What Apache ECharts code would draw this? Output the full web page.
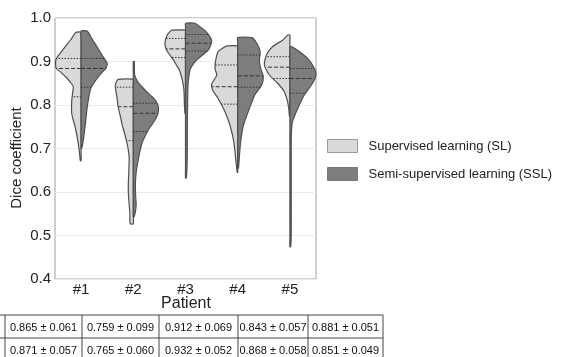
<!DOCTYPE html>
<html>
<head>
<meta charset="utf-8">
<script src="https://cdn.jsdelivr.net/npm/echarts@6/dist/echarts.min.js"></script>
<style>
  html, body { margin: 0; padding: 0; background: #fff; }
  #chart { width: 568px; height: 357px; }
</style>
</head>
<body>
<div id="chart"></div>
<script>
var patients = ['#1', '#2', '#3', '#4', '#5'];

// violin outlines: [dice value, relative half width]
var slProfiles = [
    [[0.967, 0.19], [0.95, 0.4], [0.935, 0.6], [0.92, 0.79], [0.907, 0.95], [0.895, 0.98], [0.884, 0.95], [0.875, 0.77], [0.862, 0.55], [0.85, 0.38], [0.842, 0.3], [0.825, 0.33], [0.81, 0.36], [0.781, 0.36], [0.765, 0.3], [0.75, 0.23], [0.72, 0.13], [0.695, 0.07], [0.672, 0.03]],
    [[0.859, 0.58], [0.852, 0.66], [0.842, 0.69], [0.82, 0.63], [0.796, 0.58], [0.775, 0.5], [0.758, 0.44], [0.74, 0.36], [0.72, 0.27], [0.7, 0.2], [0.681, 0.16], [0.65, 0.17], [0.62, 0.19], [0.6, 0.19], [0.58, 0.17], [0.55, 0.13], [0.527, 0.12]],
    [[0.972, 0.52], [0.965, 0.65], [0.957, 0.73], [0.942, 0.79], [0.93, 0.75], [0.919, 0.65], [0.903, 0.46], [0.89, 0.33], [0.88, 0.23], [0.857, 0.12], [0.834, 0.06], [0.8, 0.04], [0.78, 0.02]],
    [[0.936, 0.4], [0.93, 0.6], [0.923, 0.75], [0.907, 0.83], [0.884, 0.87], [0.869, 0.8], [0.858, 0.9], [0.848, 1.0], [0.834, 0.96], [0.815, 0.75], [0.785, 0.49], [0.754, 0.3], [0.716, 0.15], [0.678, 0.08], [0.645, 0.02]],
    [[0.961, 0.08], [0.949, 0.28], [0.934, 0.67], [0.915, 0.9], [0.892, 0.98], [0.869, 0.79], [0.85, 0.47], [0.831, 0.22], [0.808, 0.09], [0.79, 0.04], [0.775, 0.02]]
];
var sslProfiles = [
    [[0.97, 0.23], [0.95, 0.44], [0.93, 0.65], [0.91, 0.85], [0.896, 1.0], [0.885, 0.96], [0.875, 0.8], [0.862, 0.62], [0.85, 0.48], [0.84, 0.38], [0.82, 0.3], [0.793, 0.23], [0.76, 0.17], [0.73, 0.11], [0.71, 0.06], [0.7, 0.02]],
    [[0.9, 0.04], [0.87, 0.05], [0.855, 0.15], [0.842, 0.33], [0.83, 0.52], [0.819, 0.72], [0.808, 0.88], [0.796, 0.96], [0.785, 0.96], [0.773, 0.9], [0.758, 0.75], [0.743, 0.58], [0.728, 0.45], [0.712, 0.33], [0.695, 0.26], [0.681, 0.21], [0.65, 0.12], [0.62, 0.08], [0.59, 0.09], [0.57, 0.11], [0.555, 0.08], [0.543, 0.03]],
    [[0.988, 0.36], [0.98, 0.55], [0.972, 0.73], [0.96, 0.9], [0.949, 1.0], [0.94, 0.98], [0.926, 0.87], [0.915, 0.66], [0.903, 0.42], [0.89, 0.25], [0.88, 0.17], [0.85, 0.1], [0.8, 0.08], [0.75, 0.07], [0.7, 0.07], [0.66, 0.06], [0.632, 0.03]],
    [[0.955, 0.54], [0.942, 0.73], [0.923, 0.86], [0.9, 0.83], [0.884, 0.88], [0.865, 0.98], [0.846, 0.92], [0.823, 0.65], [0.792, 0.45], [0.754, 0.22], [0.708, 0.1], [0.655, 0.03]],
    [[0.934, 0.08], [0.923, 0.36], [0.907, 0.68], [0.884, 0.94], [0.869, 1.0], [0.85, 0.87], [0.823, 0.55], [0.792, 0.3], [0.762, 0.1], [0.739, 0.06], [0.7, 0.05], [0.6, 0.05], [0.5, 0.05], [0.474, 0.03]]
];

// 25%, median, 75%
var slQuartiles = [[0.819, 0.884, 0.907], [0.718, 0.796, 0.841], [0.909, 0.929, 0.953], [0.802, 0.842, 0.892], [0.861, 0.887, 0.911]];
var sslQuartiles = [[0.841, 0.884, 0.907], [0.739, 0.781, 0.804], [0.924, 0.942, 0.962], [0.841, 0.867, 0.915], [0.827, 0.861, 0.884]];

// table under the plot
var slMean = [0.865, 0.759, 0.912, 0.843, 0.881];
var slStd = [0.061, 0.099, 0.069, 0.057, 0.051];
var sslMean = [0.871, 0.765, 0.932, 0.868, 0.851];
var sslStd = [0.057, 0.060, 0.052, 0.058, 0.049];

var SL_COLOR = '#d9d9d9';
var SSL_COLOR = '#7d7d7d';
var FONT = 'Liberation Sans, Arial, sans-serif';

function widthAt(prof, v) {
    for (var k = 0; k < prof.length - 1; k++) {
        var a = prof[k], b = prof[k + 1];
        if (v <= a[0] && v >= b[0]) {
            var t = (a[0] - v) / (a[0] - b[0]);
            return a[1] + (b[1] - a[1]) * t;
        }
    }
    return 0;
}

function halfViolin(profiles, quartiles, side, fill) {
    return function (params, api) {
        var i = api.value(0);
        var prof = profiles[i];
        var cx = api.coord([i, 0.7])[0];
        var half = api.size([1, 0])[0] / 2;
        var edge = prof.map(function (p) {
            return [cx + side * p[1] * half, api.coord([i, p[0]])[1]];
        });
        var center = prof.slice().reverse().map(function (p) {
            return [cx, api.coord([i, p[0]])[1]];
        });
        var children = [{
            type: 'polygon',
            shape: { points: edge.concat(center), smooth: 0.2 },
            style: { fill: fill, stroke: '#4f4f4f', lineWidth: 1.2 }
        }];
        quartiles[i].forEach(function (q, k) {
            var w = widthAt(prof, q);
            var y = api.coord([i, q])[1];
            children.push({
                type: 'line',
                shape: { x1: cx, y1: y, x2: cx + side * w * half, y2: y },
                style: { stroke: '#333', lineWidth: 1, lineDash: k === 1 ? [4, 2] : [1.5, 1.5] }
            });
        });
        return { type: 'group', children: children };
    };
}

// table drawn with graphic elements
var colX = [5, 82, 159, 238, 308, 383];
var rowY = [315, 338, 361];
var tableItems = [];
rowY.forEach(function (y) {
    tableItems.push({ type: 'line', shape: { x1: 0, y1: y, x2: colX[colX.length - 1], y2: y }, style: { stroke: '#444', lineWidth: 1 } });
});
colX.forEach(function (x) {
    tableItems.push({ type: 'line', shape: { x1: x, y1: rowY[0], x2: x, y2: rowY[2] }, style: { stroke: '#444', lineWidth: 1 } });
});
[[slMean, slStd], [sslMean, sslStd]].forEach(function (row, r) {
    for (var c = 0; c < patients.length; c++) {
        tableItems.push({
            type: 'text',
            x: (colX[c] + colX[c + 1]) / 2,
            y: (rowY[r] + rowY[r + 1]) / 2 + 1,
            style: {
                text: row[0][c].toFixed(3) + ' \u00b1 ' + row[1][c].toFixed(3),
                fill: '#111', font: '11px ' + FONT, align: 'center', verticalAlign: 'middle'
            }
        });
    }
});
// axis titles
tableItems.push({
    type: 'text', x: 17, y: 158, rotation: Math.PI / 2,
    style: { text: 'Dice coefficient', fill: '#222', font: '15px ' + FONT, align: 'center', verticalAlign: 'middle' }
});
tableItems.push({
    type: 'text', x: 186, y: 304,
    style: { text: 'Patient', fill: '#222', font: '16px ' + FONT, align: 'center', verticalAlign: 'middle' }
});

var option = {
    backgroundColor: '#fff',
    animation: false,
    grid: { left: 55, right: 252, top: 18, bottom: 78, show: true, borderColor: '#a0a0a0', borderWidth: 1 },
    xAxis: {
        type: 'category',
        data: patients,
        axisLine: { show: false },
        axisTick: { show: false },
        axisLabel: { fontSize: 15, color: '#222', fontFamily: FONT, margin: 3 },
        splitLine: { show: false }
    },
    yAxis: {
        type: 'value',
        min: 0.4,
        max: 1.0,
        interval: 0.1,
        axisLine: { show: false },
        axisTick: { show: false },
        axisLabel: { fontSize: 15, color: '#222', fontFamily: FONT, margin: 4, formatter: function (v) { return v.toFixed(1); } },
        splitLine: { lineStyle: { color: '#ebebeb', width: 1 } }
    },
    legend: {
        orient: 'vertical',
        left: 322,
        top: 134,
        itemWidth: 30,
        itemHeight: 13,
        itemGap: 14,
        icon: 'rect',
        textStyle: { fontSize: 13, color: '#222', fontFamily: FONT, padding: [0, 0, 0, 6] },
        data: [
            { name: 'Supervised learning (SL)', itemStyle: { color: SL_COLOR, borderColor: '#999', borderWidth: 1 } },
            { name: 'Semi-supervised learning (SSL)', itemStyle: { color: SSL_COLOR, borderColor: '#777', borderWidth: 1 } }
        ]
    },
    graphic: tableItems,
    series: [
        {
            name: 'Supervised learning (SL)',
            type: 'custom',
            itemStyle: { color: SL_COLOR },
            renderItem: halfViolin(slProfiles, slQuartiles, -1, SL_COLOR),
            data: patients.map(function (p, i) { return [i]; }),
            encode: { x: 0 }
        },
        {
            name: 'Semi-supervised learning (SSL)',
            type: 'custom',
            itemStyle: { color: SSL_COLOR },
            renderItem: halfViolin(sslProfiles, sslQuartiles, 1, SSL_COLOR),
            data: patients.map(function (p, i) { return [i]; }),
            encode: { x: 0 }
        }
    ]
};

var chart = echarts.init(document.getElementById('chart'));
chart.setOption(option);
</script>
</body>
</html>
